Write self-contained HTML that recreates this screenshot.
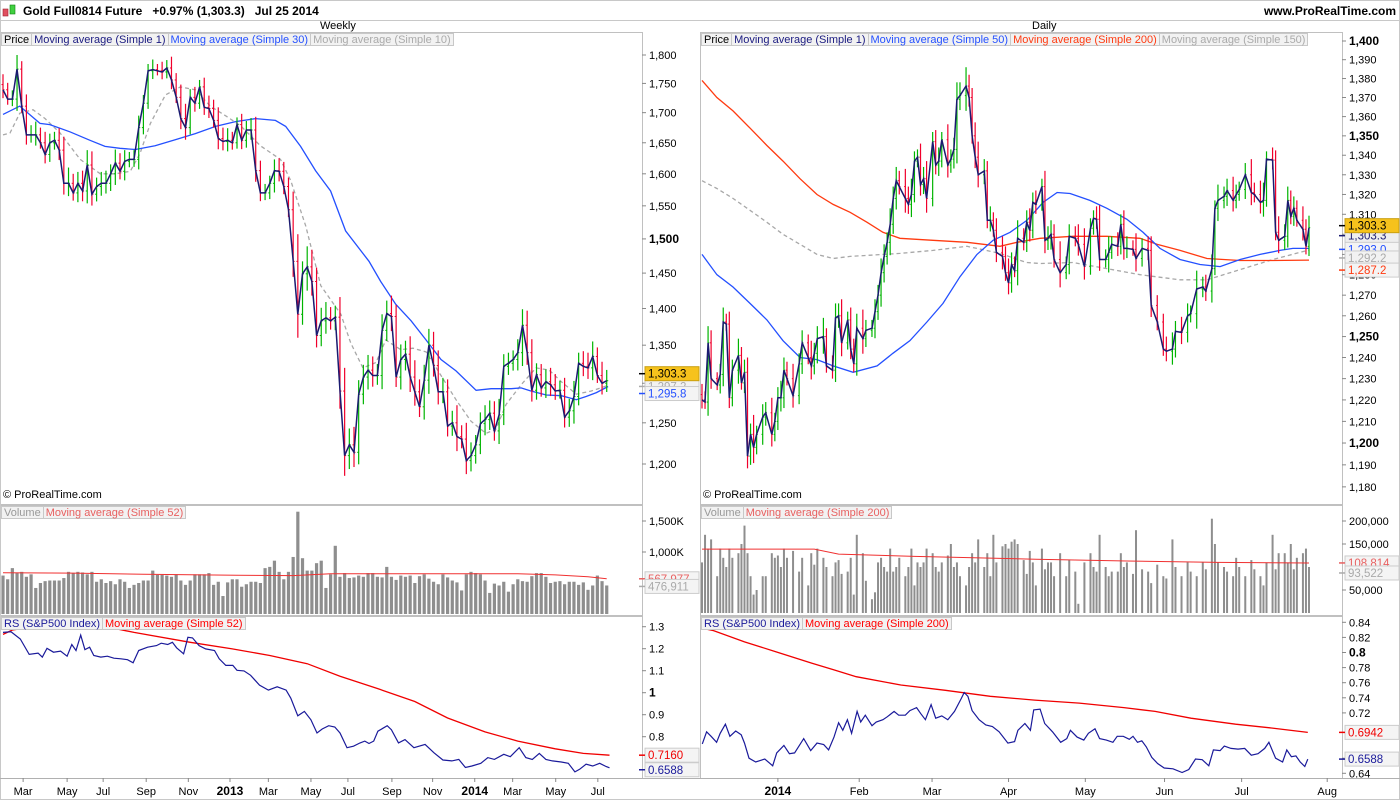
<!DOCTYPE html>
<html><head><meta charset="utf-8">
<style>
body{margin:0;background:#fff;width:1400px;height:800px;overflow:hidden;font-family:"Liberation Sans",Arial,sans-serif;}
#wrap{position:relative;width:1400px;height:800px;}
svg{position:absolute;left:0;top:0;}
.leg{position:absolute;height:13px;line-height:13px;font-size:11px;display:flex;}
.leg span{border:1px solid #c8c8c8;background:#f2f2f2;padding:0 2px;margin-right:-1px;white-space:nowrap;}
.hdr{position:absolute;font-size:12px;font-weight:bold;top:4px;}
</style></head><body>
<div id="wrap">
<svg id="c" width="1400" height="800"></svg>
<div class="hdr" style="left:23px">Gold Full0814 Future&nbsp;&nbsp;&nbsp;+0.97% (1,303.3)&nbsp;&nbsp;&nbsp;Jul 25 2014</div>
<div class="hdr" style="right:4px">www.ProRealTime.com</div>
<div style="position:absolute;left:320px;top:20px;font-size:11px">Weekly</div>
<div style="position:absolute;left:1032px;top:20px;font-size:11px">Daily</div>
<div class="leg" style="left:1px;top:33px"><span style="color:#000">Price</span><span style="color:#1a1a80">Moving average (Simple 1)</span><span style="color:#2450ff">Moving average (Simple 30)</span><span style="color:#aaa">Moving average (Simple 10)</span></div>
<div class="leg" style="left:701px;top:33px"><span style="color:#000">Price</span><span style="color:#1a1a80">Moving average (Simple 1)</span><span style="color:#2450ff">Moving average (Simple 50)</span><span style="color:#ff3a10">Moving average (Simple 200)</span><span style="color:#aaa">Moving average (Simple 150)</span></div>
<div class="leg" style="left:1px;top:506px"><span style="color:#999">Volume</span><span style="color:#e86060">Moving average (Simple 52)</span></div>
<div class="leg" style="left:701px;top:506px"><span style="color:#999">Volume</span><span style="color:#e86060">Moving average (Simple 200)</span></div>
<div class="leg" style="left:1px;top:617px"><span style="color:#1a1a9a">RS (S&amp;P500 Index)</span><span style="color:#f00">Moving average (Simple 52)</span></div>
<div class="leg" style="left:701px;top:617px"><span style="color:#1a1a9a">RS (S&amp;P500 Index)</span><span style="color:#f00">Moving average (Simple 200)</span></div>
<div style="position:absolute;left:3px;top:489px;font-size:11px">© ProRealTime.com</div>
<div style="position:absolute;left:703px;top:489px;font-size:11px">© ProRealTime.com</div>
</div>
<script>
// ---------- WEEKLY DATA ----------
const wCloses=[1739,1723,1723,1775,1711,1663,1663,1663,1650,1631,1650,1654,1638,1585,1585,1570,1585,1573,1614,1568,1580,1585,1585,1600,1617,1604,1620,1623,1623,1675,1716,1772,1774,1772,1770,1777,1756,1726,1690,1675,1726,1716,1744,1709,1707,1687,1657,1652,1654,1650,1680,1654,1671,1671,1605,1570,1570,1585,1605,1604,1580,1544,1467,1392,1449,1459,1438,1363,1383,1387,1383,1388,1290,1210,1223,1214,1286,1308,1317,1310,1310,1370,1393,1389,1308,1331,1338,1308,1289,1270,1304,1350,1323,1289,1289,1246,1250,1233,1230,1204,1210,1223,1249,1254,1262,1240,1260,1322,1326,1331,1340,1377,1340,1291,1311,1294,1302,1298,1290,1291,1257,1265,1283,1326,1322,1320,1335,1310,1300,1303.3];
const wWicks=[18,12,15,25,14,20,16,22,12,18,15,14,20,22,25,15,18,20,24,22,14,18,20,15,22,16,18,12,15,20,14,12,18,10,16,14,20,12,22,25,14,18,12,16,20,15,22,18,20,14,12,18,15,20,22,16,14,12,18,20,15,14,28,40,18,30,25,20,18,22,15,16,28,30,20,22,18,16,20,18,15,22,18,25,16,20,18,24,22,16,20,22,18,20,18,16,15,22,14,20,16,12,14,18,16,15,20,16,14,12,18,22,20,18,15,14,16,18,14,12,16,15,20,14,16,18,20,12,18,14];
const wVolume=[620,560,740,660,680,600,640,420,500,530,540,540,540,580,680,660,680,670,640,680,520,560,500,530,480,560,520,420,470,500,540,540,700,630,630,620,600,640,540,470,540,640,640,640,660,470,520,290,510,560,560,440,480,520,520,500,740,760,860,680,560,680,920,1650,900,700,700,820,860,420,640,1100,600,660,580,590,620,600,660,660,600,590,760,600,550,620,600,620,500,610,640,570,520,480,640,590,540,510,380,640,680,660,640,540,340,490,460,520,360,480,560,530,520,610,660,660,600,500,520,530,480,520,520,470,510,390,460,620,530,460];
const wVolMaIdx=[0,15,30,50,62,70,90,110,118,125,129];
const wVolMaVals=[665,660,640,625,620,648,650,650,630,600,568];
const wMa30Idx=[0,3.6,7.9,10,14.3,18.6,21.8,25,28.3,32.5,36.8,41.1,45.4,49.7,54,58.2,60.4,63.6,66.8,70,73.2,78.2,80.7,83.9,87.2,90.4,93.6,96.8,101.1,104.3,108.6,110.7,112.8,116.1,119.3,122.5,124.6,126.8,129.3];
const wMa30Vals=[1697,1711,1682,1680,1668,1654,1644,1641,1639,1645,1655,1665,1677,1685,1690,1687,1677,1644,1605,1573,1512,1467,1438,1406,1383,1357,1331,1316,1291,1293,1293,1294,1290,1285,1284,1279,1283,1288,1295.8];
const wMa10Idx=[0,1.5,3.6,6.4,9,12.2,16.5,20.8,24,27.2,29.3,31.5,34.7,37.9,41.1,44.3,47.5,50.8,55,59.3,61.5,64.7,67.9,72.2,74.3,76.9,79.7,81.8,85,87.6,90.4,93.6,96.8,100,103.2,105.3,107.5,110.7,113.9,116.7,119.3,122.5,125.7,129.3];
const wMa10Vals=[1663,1666,1699,1705,1690,1666,1623,1600,1600,1604,1633,1682,1730,1744,1739,1711,1695,1678,1645,1623,1589,1519,1432,1392,1353,1320,1327,1357,1344,1346,1341,1310,1279,1252,1237,1242,1273,1298,1320,1317,1302,1286,1290,1297.2];
const wRsIdx=[0,1.7,3.7,5.6,7.5,8.4,9.4,10.8,12.3,13.7,14.7,15.6,16.6,17.5,18.5,19.4,20.9,22.3,23.7,25.2,26.6,27.8,29,30.9,32.8,33.8,35.2,36.2,37.1,38.6,39.5,40.5,41.9,43.3,45.2,46.2,47.6,49.1,50,51.5,52.9,54.8,56.7,58.6,60.5,61.5,63,64.4,65.8,67.1,68.2,69.6,70.9,72,73.5,74.9,76.3,77.3,78.2,79.2,80.1,82.1,83,84.5,85.9,87.8,90.2,92.1,94,95.9,97.4,98.8,100.2,102.1,103.6,105,107,108.4,110.3,111.7,113.1,114.6,116,117.4,119.3,120.8,122.2,123.2,124.6,126,127.5,128.9,129.6];
const wRsVals=[1.274,1.277,1.244,1.174,1.180,1.162,1.202,1.184,1.189,1.166,1.219,1.192,1.262,1.196,1.207,1.169,1.162,1.166,1.157,1.154,1.150,1.136,1.192,1.207,1.214,1.225,1.219,1.229,1.204,1.177,1.252,1.249,1.214,1.199,1.192,1.154,1.124,1.124,1.102,1.099,1.079,1.034,1.012,1.027,1.012,0.975,0.895,0.915,0.877,0.817,0.835,0.850,0.844,0.817,0.750,0.757,0.772,0.780,0.769,0.780,0.825,0.850,0.832,0.772,0.787,0.750,0.765,0.727,0.694,0.690,0.697,0.660,0.667,0.679,0.705,0.697,0.720,0.709,0.750,0.705,0.697,0.724,0.697,0.690,0.685,0.679,0.640,0.652,0.675,0.667,0.679,0.664,0.6588];
const wRsMaIdx=[0,2,10,22,28,40,49,57,65,72,80,88,95,103,110,118,124,129.6];
const wRsMaVals=[1.265,1.285,1.31,1.30,1.274,1.229,1.199,1.169,1.132,1.075,1.019,0.960,0.885,0.822,0.780,0.745,0.724,0.716];
const wXLabels=['Mar','May','Jul','Sep','Nov','2013','Mar','May','Jul','Sep','Nov','2014','Mar','May','Jul'];
const wXLabelIdx=[4.3,13.7,21.4,30.6,39.6,48.5,56.7,65.8,73.7,83.1,91.8,100.8,108.9,118.1,127.1];
const wPriceTicks=[1800,1750,1700,1650,1600,1550,1500,1450,1400,1350,1300,1250,1200];
const wVolTicks=[1500,1000];
const wRsTicks=[1.3,1.2,1.1,1,0.9,0.8];

// ---------- DAILY DATA ----------
const dDays=[0,1,2,3,5,6,7,8,9,10,12,13,14,15,16,17,18,20,21,23,24,25,26,27,28,30,32,33,35,36,37,38,40,41,43,44,45,46,48,49,50,51,53,54,56,57,58,59,60,61,62,63,64,65,67,68,69,70,71,72,73,74,76,77,78,79,81,82,83,84,85,87,88,89,90,91,93,94,95,96,97,99,100,101,102,103,104,106,107,108,109,110,112,113,114,115,116,118,120,121,123,124,126,128,129,130,131,133,134,135,137,138,139,140,142,143,145,147,148,150,152,153,155,156,158,160,161,163,165,166,168,169,170,172,173,175,176,177,179,181,182,184,185,186,188,189,190,192,193,194,195,196,198,199,200];
const dCloses=[1220,1219,1247,1230,1227,1232,1257,1256,1221,1234,1241,1228,1233,1194,1204,1198,1204,1212,1214,1204,1210,1221,1221,1234,1230,1222,1237,1247,1240,1236,1242,1249,1250,1236,1234,1259,1260,1247,1258,1244,1237,1254,1249,1253,1254,1262,1270,1281,1289,1296,1305,1318,1327,1324,1318,1315,1320,1337,1339,1325,1328,1318,1347,1335,1337,1348,1335,1338,1343,1369,1371,1376,1370,1350,1339,1330,1332,1307,1307,1302,1291,1289,1281,1276,1285,1282,1298,1296,1306,1302,1316,1315,1324,1297,1298,1300,1287.5,1281,1285,1299,1298,1295,1284,1303,1308,1307.5,1287.5,1287.5,1291,1295,1294,1305,1293,1293,1292.5,1288,1293,1292,1265,1257,1244,1243,1244,1252.5,1252,1260,1261,1273,1274,1272,1283,1313,1317,1319,1322,1317,1320,1322.5,1330,1321,1320,1316,1317,1338,1337.5,1301,1297,1299,1317,1309,1313,1307,1302.5,1294,1303.3];
const dWicks=[5,4,8,6,3,5,7,4,6,5,8,4,6,7,5,9,4,6,5,7,4,5,8,6,4,7,5,6,4,8,5,6,9,4,5,7,6,8,4,6,5,7,9,5,4,6,5,7,6,5,8,6,7,5,9,6,8,5,4,7,6,9,5,6,7,4,8,5,6,9,7,10,6,5,7,8,6,5,7,4,6,8,5,7,6,4,9,5,6,7,5,6,4,8,6,7,5,9,4,6,5,7,8,5,4,6,7,5,8,4,6,5,7,6,4,8,5,6,7,5,4,6,8,5,7,6,4,9,5,6,7,4,8,5,6,7,5,4,6,8,5,7,9,4,6,5,8,6,7,5,6,4,7,5,6];
const dVolume=[110,170,140,160,80,140,120,100,140,120,130,150,190,130,80,40,50,80,80,130,120,125,100,140,120,135,90,120,60,130,105,140,120,100,80,110,115,85,90,120,40,170,130,70,30,45,110,120,100,90,140,90,100,120,80,100,140,60,110,100,110,140,130,100,90,110,125,150,100,110,80,60,100,130,110,160,100,130,80,170,110,145,150,140,155,160,150,115,85,135,110,60,140,95,110,110,80,130,80,115,90,20,110,130,100,90,170,100,80,90,90,130,100,110,85,180,95,90,65,105,80,75,160,100,80,110,90,80,110,95,205,150,110,100,90,80,120,100,80,115,95,80,60,110,170,95,130,130,110,150,95,120,130,140,100];
const dVolMaDays=[0,37,45,70,110,140,170,200];
const dVolMaVals=[139,139,128,123,117,113,110,108.8];
const dMa50Days=[0,4.9,10.2,15.8,21.4,26.7,32.3,37.9,43.2,49.8,57.7,62.9,68.5,74.1,79.4,85,90.6,95.9,101.5,107.1,112.4,117,121.3,127.8,133.4,140,145.3,150.9,157.5,164.1,170.7,177.3,183.9,190.4,194.7,200];
const dMa50Vals=[1290,1280,1274,1266,1258,1248,1240,1239,1236,1233,1236,1242,1248,1257,1266,1279,1290,1297,1301,1307,1316,1321,1320.5,1317,1313,1307.5,1301,1293,1287.5,1285,1284,1287.5,1290,1292,1293,1293];
const dMa200Days=[0,4.9,10.2,15.8,21.4,26.7,32.3,37.9,43.2,48.8,54.4,59.6,65.2,76.1,87.3,98.2,103.8,111.4,122.2,133.4,144.3,149.9,157.5,166.4,177.3,188.1,200];
const dMa200Vals=[1379,1370,1363,1354,1345,1337,1328,1320,1315,1311,1306,1301,1298,1297,1296,1294,1296,1298,1299,1299,1298,1295,1292,1288,1287,1287,1287.2];
const dMa150Days=[0,4.9,10.2,15.8,21.4,26.7,32.3,37.9,43.2,48.8,54.4,65.2,76.1,87.3,98.2,106.9,111.4,122.2,133.4,144.3,157.5,166.4,177.3,188.1,200];
const dMa150Vals=[1327,1323,1318,1312,1306,1300,1295,1290,1288,1289,1289.5,1290.5,1292,1294,1290.5,1286,1285.5,1286,1283,1280,1277.5,1277.5,1282.5,1287.5,1292.2];
const dRsDays=[0.1,1.5,3,4.8,6,7.7,9.2,11.1,12.9,14,15.5,17.7,20.7,23.3,24.6,27,28.8,30.5,33.5,35.8,37.9,40.1,41.7,43.5,45,46.4,47.9,49.3,51.1,52.3,53.8,56,57.4,59.6,61.1,63.3,64.8,67,68.5,70.7,72.1,73.6,75.5,77,79,81,83.2,85.4,86.4,87.6,89,91.3,93.5,95.7,97.9,100.8,103,104.1,106.4,108.2,109.3,111.4,112.9,115.5,118.2,120.2,121.4,123.6,125.8,127.3,129.5,131,133.2,135.4,136.8,138.8,140.8,142,143.5,144.9,146.4,148.2,150.1,152.3,155.2,158.2,160.4,162.6,164.8,167,168.5,170.7,172.1,174.3,176.6,178.8,181,183.2,185.4,186.8,189,191.3,192.7,194.2,195.7,197.1,198.6,199.6];
const dRsVals=[0.679,0.695,0.689,0.681,0.693,0.705,0.689,0.696,0.691,0.680,0.660,0.655,0.659,0.650,0.667,0.677,0.666,0.667,0.686,0.670,0.680,0.678,0.671,0.688,0.707,0.697,0.711,0.693,0.722,0.708,0.717,0.703,0.708,0.711,0.715,0.722,0.717,0.717,0.723,0.727,0.719,0.711,0.731,0.713,0.716,0.711,0.722,0.739,0.747,0.742,0.723,0.711,0.704,0.702,0.695,0.680,0.682,0.697,0.706,0.697,0.724,0.725,0.706,0.695,0.681,0.686,0.697,0.688,0.684,0.693,0.699,0.686,0.684,0.681,0.689,0.689,0.685,0.689,0.681,0.683,0.675,0.661,0.653,0.647,0.646,0.641,0.645,0.659,0.658,0.650,0.671,0.670,0.676,0.673,0.672,0.673,0.664,0.666,0.673,0.681,0.660,0.655,0.671,0.662,0.663,0.655,0.649,0.6588];
const dRsMaDays=[0,3.8,14,24.3,36.1,43.5,50.8,65.5,80.2,95,109.6,124.3,139,149.3,161.1,175.8,187.6,199.6];
const dRsMaVals=[0.832,0.829,0.814,0.801,0.786,0.777,0.768,0.757,0.750,0.742,0.737,0.733,0.727,0.722,0.713,0.705,0.700,0.6942];
const dXLabels=['2014','Feb','Mar','Apr','May','Jun','Jul','Aug'];
const dXLabelDays=[25,51.8,75.8,101,126.3,152.4,177.8,206];
const dPriceTicks=[1400,1390,1380,1370,1360,1350,1340,1330,1320,1310,1300,1290,1280,1270,1260,1250,1240,1230,1220,1210,1200,1190,1180];
const dVolTicks=[200,150,100,50];
const dRsTicks=[0.84,0.82,0.8,0.78,0.76,0.74,0.72,0.7,0.68,0.66,0.64];

// ---------- SCALES ----------
const wX=i=>3+4.68*i, dX=d=>702+3.035*d;
const wY=p=>55+1008.7*Math.log(1800/p), dY=p=>41+2608*Math.log(1400/p);
const wVY=v=>614-v*0.062, dVY=v=>613-v*0.46;
const wRY=v=>692.7-(v-1)*220, dRY=v=>773.3-(v-0.64)*755;

const svg=document.getElementById('c');
const NS='http://www.w3.org/2000/svg';
function mk(tag,attrs,parent){const e=document.createElementNS(NS,tag);for(const k in attrs)e.setAttribute(k,attrs[k]);(parent||svg).appendChild(e);return e;}
const defs=mk('defs',{});
function clip(id,x,y,w,h){const c=mk('clipPath',{id:id},defs);mk('rect',{x:x,y:y,width:w,height:h},c);}
clip('cwp',0,33,642,470);clip('cwv',0,506,642,108);clip('cwr',0,617,642,161);
clip('cdp',700,33,642,470);clip('cdv',700,506,642,108);clip('cdr',700,617,642,161);

// frames
const frames=[[0,32,642,472],[0,505,642,110],[0,616,642,162],[700,32,642,472],[700,505,642,110],[700,616,642,162]];
const frameNames=['weekly-price-panel','weekly-volume-panel','weekly-rs-panel','daily-price-panel','daily-volume-panel','daily-rs-panel'];
frames.forEach((f,k)=>{const r=mk('rect',{x:f[0]+0.5,y:f[1]+0.5,width:f[2],height:f[3],fill:'none',stroke:'#c0c0c0'});

});
mk('line',{x1:0,y1:20.5,x2:1400,y2:20.5,stroke:'#c8c8c8'});
mk('rect',{x:0.5,y:0.5,width:1399,height:799,fill:'none',stroke:'#c8c8c8'});
mk('rect',{x:0,y:778,width:1400,height:1,fill:'#b0b0b0'});
// header icon
mk('rect',{x:3,y:9,width:5,height:7,fill:'#e05060',stroke:'#a02030','stroke-width':0.6});
mk('rect',{x:10,y:5,width:5,height:9,fill:'#40d040',stroke:'#108010','stroke-width':0.6});

function line(xs,ys,attrs,g,name){const pts=xs.map((x,i)=>x.toFixed(1)+','+ys[i].toFixed(1)).join(' ');const p=mk('polyline',Object.assign({points:pts,fill:'none'},attrs),g);

return p;}
function text(x,y,s,attrs,name){const t=mk('text',Object.assign({x:x,y:y,'font-size':11,'font-family':'Liberation Sans, Arial, sans-serif'},attrs));t.textContent=s;

return t;}

// ---------- candles ----------
function candles(closes,wicks,xf,yf,g,prefix,w){
  closes.forEach((c,i)=>{
    const o=i>0?closes[i-1]:c+(wicks[i]*0.5);
    const hi=Math.max(o,c)+wicks[i], lo=Math.min(o,c)-wicks[i]*0.8;
    const col=c>=o?'#00b400':'#f0002c';
    const x=xf(i);
    const b=mk('line',{x1:x,y1:yf(hi),x2:x,y2:yf(lo),stroke:col,'stroke-width':1.2},g);
    
    
    mk('line',{x1:x-w,y1:yf(o),x2:x,y2:yf(o),stroke:col,'stroke-width':1},g);
    mk('line',{x1:x,y1:yf(c),x2:x+w,y2:yf(c),stroke:col,'stroke-width':1},g);
  });
}
// WEEKLY price
const gwp=mk('g',{'clip-path':'url(#cwp)'});
line(wMa10Idx.map(wX),wMa10Vals.map(wY),{stroke:'#a8a8a8','stroke-width':1.3,'stroke-dasharray':'4,3'},gwp,'weekly-ma10-line');
line(wMa30Idx.map(wX),wMa30Vals.map(wY),{stroke:'#2450ff','stroke-width':1.3},gwp,'weekly-ma30-line');
candles(wCloses,wWicks,wX,wY,gwp,'weekly-price',1.5);
line(wCloses.map((c,i)=>wX(i)),wCloses.map(wY),{stroke:'#1a1a70','stroke-width':1.5},gwp,'weekly-close-line');
// DAILY price
const gdp=mk('g',{'clip-path':'url(#cdp)'});
line(dMa150Days.map(dX),dMa150Vals.map(dY),{stroke:'#a8a8a8','stroke-width':1.3,'stroke-dasharray':'4,3'},gdp,'daily-ma150-line');
line(dMa200Days.map(dX),dMa200Vals.map(dY),{stroke:'#ff3a10','stroke-width':1.3},gdp,'daily-ma200-line');
line(dMa50Days.map(dX),dMa50Vals.map(dY),{stroke:'#2450ff','stroke-width':1.3},gdp,'daily-ma50-line');
candles(dCloses,dWicks,i=>dX(dDays[i]),dY,gdp,'daily-price',1.2);
line(dDays.map(dX),dCloses.map(dY),{stroke:'#1a1a70','stroke-width':1.5},gdp,'daily-close-line');

// volumes
const gwv=mk('g',{'clip-path':'url(#cwv)'});
wVolume.forEach((v,i)=>{const r=mk('rect',{x:wX(i)-1.6,y:wVY(v),width:3.2,height:614-wVY(v),fill:'#8e8e8e'},gwv);

});
line(wVolMaIdx.map(wX),wVolMaVals.map(wVY),{stroke:'#f03030','stroke-width':1},gwv,'weekly-volume-ma52');
const gdv=mk('g',{'clip-path':'url(#cdv)'});
dVolume.forEach((v,i)=>{const r=mk('rect',{x:dX(dDays[i])-1,y:dVY(v),width:2,height:613-dVY(v),fill:'#8e8e8e'},gdv);

});
line(dVolMaDays.map(dX),dVolMaVals.map(dVY),{stroke:'#f03030','stroke-width':1},gdv,'daily-volume-ma200');

// RS
const gwr=mk('g',{'clip-path':'url(#cwr)'});
line(wRsMaIdx.map(wX),wRsMaVals.map(wRY),{stroke:'#f00000','stroke-width':1.3},gwr,'weekly-rs-ma52');
line(wRsIdx.map(wX),wRsVals.map(wRY),{stroke:'#1a1a9a','stroke-width':1.2},gwr,'weekly-rs-line');
const gdr=mk('g',{'clip-path':'url(#cdr)'});
line(dRsMaDays.map(dX),dRsMaVals.map(dRY),{stroke:'#f00000','stroke-width':1.3},gdr,'daily-rs-ma200');
line(dRsDays.map(dX),dRsVals.map(dRY),{stroke:'#1a1a9a','stroke-width':1.2},gdr,'daily-rs-line');

// ---------- axes ----------
const fmt=v=>v.toLocaleString('en-US');
function yTicks(ticks,yf,ax,lab,bold,top,bot,name){
  ticks.forEach(t=>{const y=yf(t);if(y<top||y>bot)return;
    mk('line',{x1:ax,y1:y,x2:ax+4,y2:y,stroke:'#888'});
    text(ax+7,y+4,lab(t),bold(t)?{'font-weight':'bold','font-size':12}:{},name);});
}
yTicks(wPriceTicks,wY,642,fmt,t=>t===1500,40,500,'weekly-price-tick');
yTicks(dPriceTicks,dY,1342,fmt,t=>t%50===0,36,500,'daily-price-tick');
yTicks(wVolTicks,wVY,642,t=>fmt(t)+'K',()=>false,510,612,'weekly-volume-tick');
yTicks(dVolTicks.filter(t=>t!==100),dVY,1342,t=>fmt(t*1000),()=>false,510,612,'daily-volume-tick');
yTicks(wRsTicks,wRY,642,t=>String(t),t=>t===1,620,776,'weekly-rs-tick');
yTicks(dRsTicks.filter(t=>t!==0.7&&t!==0.68),dRY,1342,t=>String(t),t=>t===0.8,620,776,'daily-rs-tick');

wXLabels.forEach((s,k)=>{const x=wX(wXLabelIdx[k]);mk('line',{x1:x,y1:778,x2:x,y2:782,stroke:'#888'});
text(x,795,s,{'text-anchor':'middle','font-size':s.length===4?12:11,'font-weight':s.length===4?'bold':'normal'},'weekly-x-label');});
dXLabels.forEach((s,k)=>{const x=dX(dXLabelDays[k]);mk('line',{x1:x,y1:778,x2:x,y2:782,stroke:'#888'});
text(x,795,s,{'text-anchor':'middle','font-size':s.length===4?12:11,'font-weight':s.length===4?'bold':'normal'},'daily-x-label');});

// value badges
function badge(x,y,s,fill,col,stroke,name){const g=mk('g',{});
  
  
  mk('rect',{x:x,y:y-7,width:54,height:14,fill:fill,stroke:stroke},g);
  mk('line',{x1:x-6,y1:y,x2:x,y2:y,stroke:col,'stroke-width':1.5},g);
  const t=mk('text',{x:x+3,y:y+4,'font-size':11.5,fill:col,'font-family':'Liberation Sans, Arial, sans-serif'},g);t.textContent=s;}
badge(645,wY(1297.2)+1,'1,297.2','#f2f2f2','#aaa','#ccc','weekly-ma10-value');
badge(645,wY(1295.8)+7,'1,295.8','#f4f4f4','#2450ff','#ccc','weekly-ma30-value');
badge(645,wY(1303.3)-7,'1,303.3','#f6c21c','#000','#c9a010','weekly-last-price');
badge(1345,dY(1303.3)+8,'1,303.3','#eeeeee','#1a1a70','#ccc','daily-close-value');
badge(1345,dY(1293)+1,'1,293.0','#f4f4f4','#2450ff','#ccc','daily-ma50-value');
badge(1345,dY(1292.2)+8,'1,292.2','#f2f2f2','#aaa','#ccc','daily-ma150-value');
badge(1345,dY(1287.2)+10,'1,287.2','#f4f4f4','#ff3a10','#ccc','daily-ma200-value');
badge(1345,dY(1303.3)-2,'1,303.3','#f6c21c','#000','#c9a010','daily-last-price');
badge(645,wVY(567.977),'567,977','#f4f4f4','#e86060','#ccc','weekly-vol-ma-value');
badge(645,wVY(476.911)+2,'476,911','#f4f4f4','#aaa','#ccc','weekly-volume-value');
badge(1345,dVY(108.814),'108,814','#f4f4f4','#e86060','#ccc','daily-vol-ma-value');
badge(1345,dVY(93.522)+3,'93,522','#f4f4f4','#aaa','#ccc','daily-volume-value');
badge(645,wRY(0.716),'0.7160','#f4f4f4','#f00000','#ccc','weekly-rs-ma-value');
badge(645,wRY(0.6588)+2,'0.6588','#f4f4f4','#1a1a9a','#ccc','weekly-rs-value');
badge(1345,dRY(0.6942),'0.6942','#f4f4f4','#f00000','#ccc','daily-rs-ma-value');
badge(1345,dRY(0.6588),'0.6588','#f4f4f4','#1a1a9a','#ccc','daily-rs-value');
</script>
</body></html>
